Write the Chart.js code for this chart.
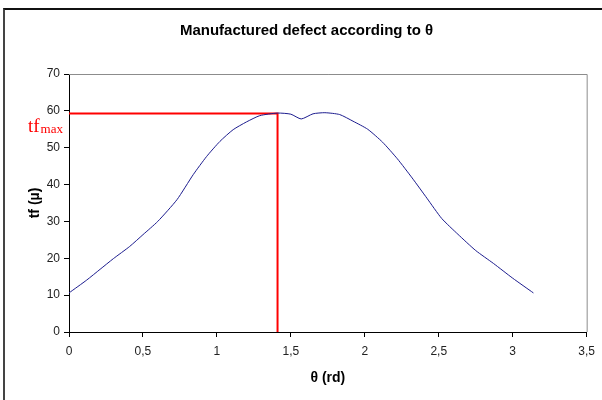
<!DOCTYPE html>
<html>
<head>
<meta charset="utf-8">
<script src="https://cdn.jsdelivr.net/npm/chart.js@4"></script>
<style>
  html, body { margin: 0; padding: 0; background: #fff; overflow: hidden; }
  #wrap { position: relative; width: 602px; height: 400px; }
  #frame {
    position: absolute; left: 3px; top: 8px; width: 700px; height: 500px;
    border-top: 2px solid #111; border-left: 2px solid #444;
  }
  canvas { position: absolute; left: 0; top: 0; }
</style>
</head>
<body>
<div id="wrap">
  <div id="frame"></div>
  <canvas id="defectChart" width="602" height="400"></canvas>
</div>
<script>
// angle θ (rd) and manufactured defect tf (µ)
const theta = [0, 0.12, 0.21, 0.30, 0.41, 0.50, 0.60, 0.73, 0.84, 0.93, 1.02, 1.11, 1.20, 1.29, 1.41,
  1.50, 1.57, 1.65, 1.73, 1.83, 1.92, 2.02, 2.12, 2.22, 2.32, 2.42, 2.52, 2.63, 2.75, 2.87, 3.00, 3.14];
const tf = [10.6, 14.1, 17.0, 19.9, 23.2, 26.4, 30.0, 35.9, 42.7, 47.6, 51.7, 54.9, 57.0, 58.7, 59.4,
  59.1, 57.8, 59.2, 59.5, 59.0, 57.2, 55.0, 51.5, 47.0, 41.8, 36.3, 30.8, 26.5, 22.1, 18.6, 14.6, 10.6];

// red marker lines for the maximum
const maxTheta = [0, 1.41, 1.41];
const maxTf = [59.3, 59.3, 0];

const chartTitle = 'Manufactured defect according to θ';
const xTitle = 'θ (rd)';
const yTitle = 'tf (µ)';

const canvas = document.getElementById('defectChart');
const sans = '"Liberation Sans", Arial, sans-serif';

// gray top/right border of the plot area
const plotBorder = {
  id: 'plotBorder',
  beforeDatasetsDraw(chart) {
    const { ctx, chartArea: a } = chart;
    ctx.save();
    ctx.strokeStyle = '#8c8c8c';
    ctx.lineWidth = 1;
    ctx.beginPath();
    ctx.moveTo(a.left, a.top + 0.5);
    ctx.lineTo(a.right + 0.5, a.top + 0.5);
    ctx.lineTo(a.right + 0.5, a.bottom);
    ctx.stroke();
    ctx.restore();
  }
};

// "tf max" label next to the y axis
const maxLabel = {
  id: 'maxLabel',
  afterDraw(chart) {
    const { ctx } = chart;
    const y = chart.scales.y.getPixelForValue(maxTf[0]);
    ctx.save();
    ctx.fillStyle = '#ff0000';
    ctx.textBaseline = 'alphabetic';
    ctx.font = '19px "Liberation Serif", "Times New Roman", serif';
    ctx.fillText('tf', 28, y + 19);
    const w = ctx.measureText('tf').width;
    ctx.font = '13px "Liberation Serif", "Times New Roman", serif';
    ctx.fillText('max', 28 + w + 1, y + 20);
    ctx.restore();
  }
};

new Chart(canvas, {
  type: 'line',
  data: {
    datasets: [
      {
        data: theta.map((t, i) => ({ x: t, y: tf[i] })),
        borderColor: '#1c1c8e',
        borderWidth: 1,
        pointRadius: 0,
        tension: 0.2,
        fill: false
      },
      {
        data: maxTheta.map((t, i) => ({ x: t, y: maxTf[i] })),
        borderColor: '#ff0000',
        borderWidth: 2,
        pointRadius: 0,
        tension: 0,
        fill: false
      }
    ]
  },
  options: {
    responsive: false,
    animation: false,
    layout: { padding: { left: 26, right: 15, top: 0, bottom: 0 } },
    plugins: {
      legend: { display: false },
      tooltip: { enabled: false },
      title: {
        display: true,
        text: chartTitle,
        color: '#000',
        font: { family: sans, size: 15, weight: 'bold' },
        padding: { top: 21.5, bottom: 34.5 }
      }
    },
    scales: {
      x: {
        type: 'linear',
        min: 0,
        max: 3.5,
        border: { display: true, color: '#000', width: 1 },
        grid: { drawOnChartArea: false, drawTicks: true, tickLength: 5, color: '#000' },
        ticks: {
          stepSize: 0.5,
          padding: 7,
          color: '#222',
          font: { family: sans, size: 12 },
          callback: v => String(v).replace('.', ',')
        },
        title: {
          display: true,
          text: xTitle,
          color: '#000',
          font: { family: sans, size: 14, weight: 'bold' },
          padding: { top: 0, bottom: 13.6 }
        },
        afterFit(scale) { scale.height = 68; }
      },
      y: {
        min: 0,
        max: 70,
        border: { display: true, color: '#000', width: 1 },
        grid: { drawOnChartArea: false, drawTicks: true, tickLength: 5, color: '#000' },
        ticks: {
          stepSize: 10,
          padding: 4,
          color: '#222',
          font: { family: sans, size: 12 }
        },
        title: {
          display: true,
          text: yTitle,
          color: '#000',
          font: { family: sans, size: 14, weight: 'bold' },
          padding: { top: 0.6, bottom: 0 }
        },
        afterFit(scale) { scale.width = 43; }
      }
    }
  },
  plugins: [plotBorder, maxLabel]
});
</script>
</body>
</html>
